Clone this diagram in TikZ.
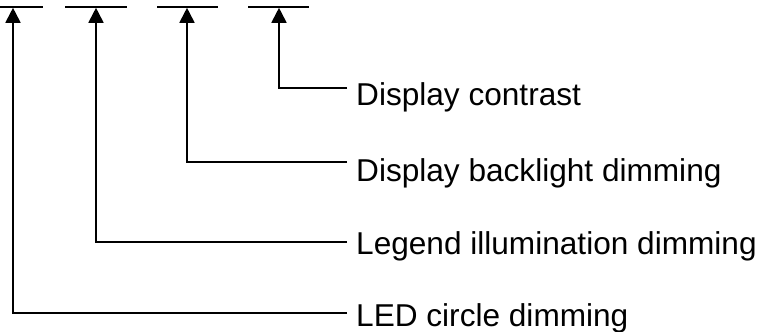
\documentclass[tikz,border=0pt]{standalone}
\usepackage{fontspec}
\setmainfont{Liberation Sans}
\usetikzlibrary{arrows.meta}
\begin{document}
\begin{tikzpicture}[x=1pt,y=-1pt,
  bar/.style={line width=1.8pt},
  conn/.style={line width=1.8pt,-{Triangle[length=15pt,width=15pt]}},
  lbl/.style={anchor=base west,inner sep=0pt,font=\fontsize{31.6}{36}\selectfont}]
\useasboundingbox (0,0) rectangle (766,332);
% bars
\draw[bar] (0,7) -- (43,7);
\draw[bar] (65,7) -- (127,7);
\draw[bar] (157,7) -- (218,7);
\draw[bar] (248,7) -- (309,7);
% arrow tips
\coordinate (t1) at (13,7.8);
\coordinate (t2) at (96,7.8);
\coordinate (t3) at (187,7.8);
\coordinate (t4) at (279,7.8);
% labels
\node[lbl] (l4) at (356,105) {Display contrast};
\node[lbl] (l3) at (356,181) {Display backlight dimming};
\node[lbl] (l2) at (356,254) {Legend illumination dimming};
\node[lbl] (l1) at (356,326) {LED circle dimming};
% line ends
\coordinate (e4) at (347,88);
\coordinate (e3) at (347,162);
\coordinate (e2) at (347,242);
\coordinate (e1) at (347,313);
% connectors
\draw[conn] (e4) -| (t4);
\draw[conn] (e3) -| (t3);
\draw[conn] (e2) -| (t2);
\draw[conn] (e1) -| (t1);
\end{tikzpicture}
\end{document}
